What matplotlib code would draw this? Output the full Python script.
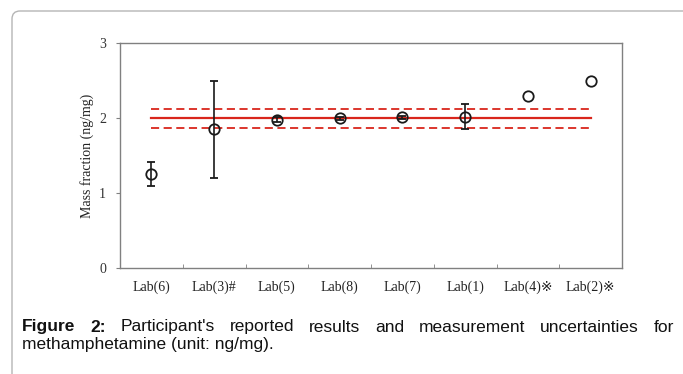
import matplotlib
matplotlib.use("Agg")
import matplotlib.pyplot as plt
import numpy as np
from matplotlib.patches import FancyBboxPatch
from matplotlib.transforms import IdentityTransform

labs = ["Lab(6)", "Lab(3)#", "Lab(5)", "Lab(8)", "Lab(7)", "Lab(1)", "Lab(4)\u203b", "Lab(2)\u203b"]
values = [1.25, 1.85, 1.98, 2.00, 2.01, 2.02, 2.30, 2.49]
errors = [0.16, 0.65, 0.03, 0.02, 0.02, 0.17, np.nan, np.nan]
ref_value = 2.00
ref_low = 1.87
ref_high = 2.12

caption_bold = "Figure 2:"
caption_line1 = "Participant's reported results and measurement uncertainties for"
caption_line2 = "methamphetamine (unit: ng/mg)."

serif = ["Liberation Serif", "DejaVu Sans"]
red = "#d9261c"
ink = "#1a1a1a"

fig = plt.figure(figsize=(6.83, 3.74), dpi=100)
W, H = 683, 374

# outer rounded frame
frame = FancyBboxPatch((12, -20), 720, H - 11 + 20,
                       boxstyle="round,pad=0,rounding_size=8",
                       transform=IdentityTransform(), facecolor="none",
                       edgecolor="#b5b5b5", lw=1.0)
fig.patches.append(frame)

ax = fig.add_axes([120 / W, 1 - 268 / H, (622 - 120) / W, (268 - 43) / H])

x = np.arange(len(labs))

# reference value and its uncertainty band
ax.plot([x[0], x[-1]], [ref_value, ref_value], color=red, lw=1.6, zorder=2)
for v in (ref_low, ref_high):
    ax.plot([x[0], x[-1]], [v, v], color=red, lw=1.3, linestyle=(0, (4.5, 2.5)), zorder=2)

ax.errorbar(x, values, yerr=errors, fmt="o", mfc="none", mec=ink, ms=7.5, mew=1.3,
            ecolor=ink, elinewidth=1.2, capsize=3, capthick=1.2, zorder=3)

ax.set_xlim(-0.5, len(labs) - 0.5)
ax.set_ylim(0, 3)
ax.set_yticks([0, 1, 2, 3])
ax.set_xticks(x)
ax.set_xticklabels(labs, family=serif, fontsize=10, color="#222222")
ax.set_xticks(x[:-1] + 0.5, minor=True)
ax.tick_params(axis="x", which="major", length=0, pad=9)
ax.tick_params(axis="x", which="minor", direction="in", length=3, color="#808080")
ax.tick_params(axis="y", direction="out", length=3, color="#808080", pad=7,
               labelsize=10, labelcolor="#333333")
for lbl in ax.get_yticklabels():
    lbl.set_family(serif)
ax.set_ylabel("Mass fraction (ng/mg)", family=serif, fontsize=10, color="#222222", labelpad=4)
for sp in ax.spines.values():
    sp.set_color("#808080")
    sp.set_linewidth(1.0)

# caption, first line justified between x0 and x1
x0, x1 = 22, 674
y1 = 1 - 327 / H
y2 = 1 - 344 / H
fs = 12.5
renderer = fig.canvas.get_renderer()
words = [(w, "bold") for w in caption_bold.split()] + \
        [(w, "normal") for w in caption_line1.split()]
texts = []
for w, wt in words:
    t = fig.text(0, y1, w, fontsize=fs, fontweight=wt, family="Liberation Sans",
                 va="center", ha="left", color="#111111")
    texts.append(t)
widths = [t.get_window_extent(renderer).width for t in texts]
gap = (x1 - x0 - sum(widths)) / (len(texts) - 1)
pos = x0
for t, w in zip(texts, widths):
    t.set_x(pos / W)
    pos += w + gap
fig.text(x0 / W, y2, caption_line2, fontsize=fs, family="Liberation Sans",
         va="center", ha="left", color="#111111")

fig.savefig("out.png", dpi=100)
